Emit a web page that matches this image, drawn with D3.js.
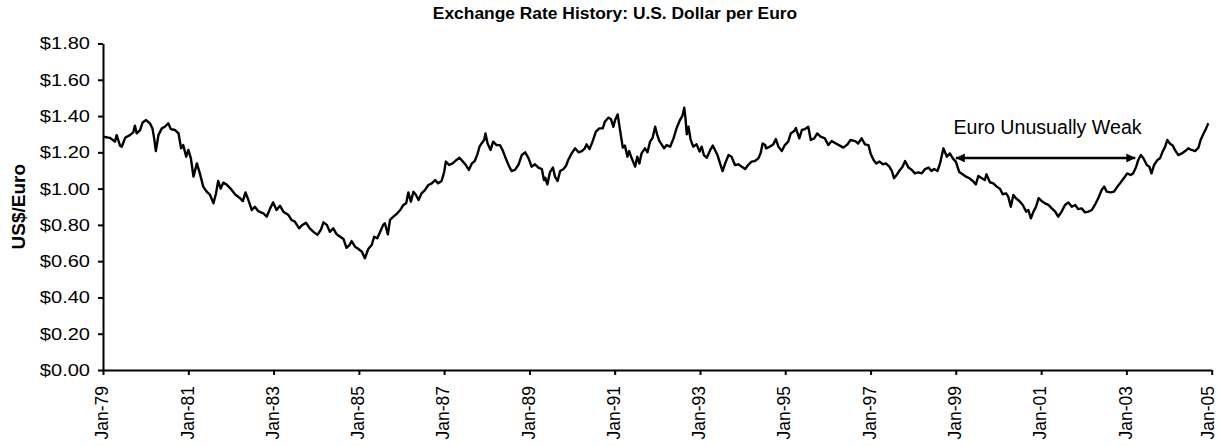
<!DOCTYPE html>
<html>
<head>
<meta charset="utf-8">
<script src="https://cdn.jsdelivr.net/npm/d3@7"></script>
<style>
  html, body { margin: 0; padding: 0; background: #fff; }
  svg { display: block; }
  text { font-family: "Liberation Sans", Arial, sans-serif; fill: #000; }
</style>
</head>
<body>
<svg id="chart" width="1219" height="446"></svg>
<script>
// ---- Data (decimal year, US$ per Euro) ----
const dates = [
  1979.01,1979.16,1979.28,1979.32,1979.40,1979.44,1979.52,1979.63,1979.71,1979.75,1979.79,1979.87,1979.93,
  1980.01,1980.10,1980.16,1980.20,1980.24,1980.30,1980.38,1980.45,1980.53,1980.59,1980.69,1980.77,1980.83,1980.88,1980.95,
  1981.00,1981.06,1981.12,1981.20,1981.27,1981.35,1981.43,1981.51,1981.59,1981.65,1981.70,1981.76,1981.82,1981.90,1981.99,
  1982.10,1982.20,1982.28,1982.34,1982.41,1982.49,1982.56,1982.64,1982.76,1982.84,1982.92,1982.99,
  1983.07,1983.15,1983.23,1983.35,1983.42,1983.50,1983.60,1983.66,1983.76,1983.85,1983.93,
  1984.03,1984.11,1984.17,1984.25,1984.32,1984.40,1984.48,1984.56,1984.64,1984.71,1984.78,1984.83,1984.91,1984.99,
  1985.07,1985.14,1985.22,1985.30,1985.36,1985.43,1985.50,1985.57,1985.61,1985.68,1985.73,1985.81,1985.90,1985.97,
  1986.04,1986.11,1986.16,1986.22,1986.28,1986.34,1986.40,1986.47,1986.55,1986.63,1986.71,1986.79,1986.86,1986.94,
  1987.00,1987.04,1987.12,1987.20,1987.29,1987.36,1987.44,1987.51,1987.58,1987.65,1987.72,1987.78,1987.83,1987.88,1987.94,1987.97,
  1988.02,1988.09,1988.15,1988.23,1988.31,1988.37,1988.43,1988.51,1988.58,1988.66,1988.74,1988.82,1988.90,1988.98,
  1989.05,1989.13,1989.21,1989.29,1989.34,1989.37,1989.42,1989.48,1989.55,1989.60,1989.66,1989.72,1989.80,1989.86,1989.91,1989.99,
  1990.07,1990.15,1990.23,1990.30,1990.34,1990.41,1990.48,1990.56,1990.64,1990.72,1990.77,1990.85,1990.91,1990.97,
  1991.01,1991.07,1991.12,1991.19,1991.24,1991.30,1991.34,1991.40,1991.48,1991.53,1991.58,1991.63,1991.71,1991.77,1991.83,1991.89,1991.95,
  1992.00,1992.05,1992.10,1992.16,1992.22,1992.30,1992.38,1992.45,1992.53,1992.59,1992.63,1992.66,1992.69,1992.73,1992.78,1992.84,1992.92,1992.99,
  1993.04,1993.09,1993.16,1993.24,1993.30,1993.35,1993.41,1993.47,1993.53,1993.59,1993.67,1993.74,1993.82,1993.90,1993.98,
  1994.06,1994.13,1994.21,1994.29,1994.37,1994.42,1994.47,1994.53,1994.55,1994.64,1994.72,1994.78,1994.84,1994.92,1994.99,
  1995.07,1995.13,1995.21,1995.25,1995.33,1995.39,1995.46,1995.54,1995.60,1995.68,1995.75,1995.83,1995.93,
  1996.01,1996.09,1996.19,1996.28,1996.36,1996.46,1996.53,1996.64,1996.71,1996.79,1996.87,1996.95,
  1997.00,1997.07,1997.13,1997.21,1997.29,1997.36,1997.44,1997.50,1997.55,1997.61,1997.69,1997.75,1997.81,1997.89,1997.97,
  1998.04,1998.12,1998.20,1998.28,1998.36,1998.43,1998.49,1998.57,1998.63,1998.71,1998.79,1998.86,1998.93,
  1999.00,1999.08,1999.16,1999.24,1999.32,1999.40,1999.47,1999.53,1999.61,1999.68,1999.72,1999.80,1999.88,1999.96,
  2000.04,2000.10,2000.18,2000.23,2000.29,2000.35,2000.41,2000.49,2000.57,2000.65,2000.70,2000.76,2000.82,2000.88,2000.94,
  2001.01,2001.09,2001.17,2001.25,2001.33,2001.40,2001.48,2001.56,2001.64,2001.72,2001.80,2001.87,2001.95,
  2002.03,2002.11,2002.19,2002.26,2002.34,2002.42,2002.48,2002.54,2002.63,2002.71,2002.79,2002.87,2002.94,
  2003.02,2003.10,2003.16,2003.23,2003.28,2003.34,2003.40,2003.48,2003.54,2003.59,2003.65,2003.73,2003.79,2003.85,2003.91,2003.96,
  2004.02,2004.09,2004.14,2004.22,2004.30,2004.38,2004.45,2004.53,2004.61,2004.69,2004.74,2004.81,2004.87,2004.92
];
const rates = [
  1.286,1.280,1.259,1.295,1.237,1.231,1.280,1.295,1.310,1.347,1.305,1.323,1.365,
  1.378,1.360,1.332,1.277,1.207,1.295,1.332,1.341,1.360,1.328,1.323,1.305,1.222,1.240,1.176,
  1.213,1.167,1.066,1.139,1.084,1.011,0.983,0.965,0.919,0.974,1.042,1.000,1.033,1.022,1.000,
  0.967,0.950,0.931,0.979,0.937,0.882,0.900,0.876,0.864,0.845,0.891,0.924,
  0.882,0.906,0.873,0.854,0.827,0.818,0.781,0.796,0.812,0.781,0.763,
  0.745,0.773,0.814,0.800,0.762,0.781,0.748,0.735,0.722,0.674,0.689,0.711,0.680,0.667,
  0.652,0.616,0.667,0.689,0.735,0.726,0.762,0.800,0.809,0.748,0.827,0.845,0.864,0.882,
  0.909,0.919,0.979,0.928,0.983,0.965,0.937,0.974,0.992,1.020,1.029,1.047,1.029,1.042,
  1.090,1.149,1.130,1.139,1.158,1.170,1.149,1.130,1.103,1.139,1.152,1.189,1.231,1.249,1.268,1.304,
  1.249,1.213,1.259,1.240,1.240,1.213,1.176,1.130,1.097,1.103,1.130,1.185,1.200,1.167,
  1.121,1.134,1.116,1.108,1.047,1.060,1.023,1.090,1.116,1.066,1.042,1.097,1.108,1.126,1.158,1.194,
  1.222,1.200,1.207,1.222,1.244,1.218,1.259,1.314,1.332,1.332,1.369,1.391,1.384,1.341,
  1.378,1.409,1.332,1.226,1.237,1.176,1.207,1.167,1.121,1.176,1.139,1.194,1.222,1.200,1.259,1.280,1.341,
  1.295,1.262,1.244,1.222,1.240,1.231,1.277,1.332,1.378,1.402,1.446,1.387,1.300,1.341,1.270,1.231,1.244,1.204,
  1.231,1.185,1.170,1.213,1.237,1.213,1.185,1.139,1.097,1.139,1.185,1.176,1.130,1.134,1.121,
  1.108,1.130,1.149,1.152,1.167,1.194,1.249,1.240,1.222,1.231,1.244,1.273,1.231,1.207,1.240,
  1.259,1.304,1.317,1.334,1.277,1.323,1.328,1.341,1.268,1.277,1.304,1.286,1.277,
  1.240,1.262,1.249,1.237,1.226,1.244,1.268,1.262,1.249,1.277,1.244,1.240,
  1.194,1.158,1.139,1.149,1.134,1.139,1.121,1.097,1.057,1.075,1.103,1.121,1.152,1.116,1.103,
  1.084,1.090,1.084,1.108,1.116,1.097,1.108,1.097,1.139,1.222,1.176,1.194,1.167,
  1.149,1.092,1.079,1.066,1.057,1.042,1.023,1.070,1.057,1.047,1.079,1.035,1.029,1.011,
  0.998,0.969,0.974,0.956,0.900,0.965,0.947,0.932,0.910,0.873,0.882,0.836,0.873,0.900,0.947,
  0.932,0.919,0.910,0.891,0.873,0.845,0.873,0.910,0.924,0.900,0.910,0.887,0.891,
  0.869,0.873,0.882,0.910,0.947,0.992,1.011,0.983,0.979,0.983,1.011,1.035,1.057,
  1.084,1.075,1.084,1.121,1.158,1.185,1.167,1.130,1.121,1.084,1.130,1.158,1.167,1.204,1.231,1.268,
  1.249,1.237,1.213,1.185,1.194,1.207,1.222,1.213,1.207,1.226,1.268,1.304,1.332,1.360
];

// Axis definitions
const startYear = 1979, endYear = 2005;
const tickYears = d3.range(1979, 2006, 2);          // Jan-79 ... Jan-05
const yTicks = [0, 0.2, 0.4, 0.6, 0.8, 1.0, 1.2, 1.4, 1.6, 1.8];
const titleText = "Exchange Rate History: U.S. Dollar per Euro";
const yAxisTitle = "US$/Euro";
const annotationText = "Euro Unusually Weak";
const annotationSpan = [1999.0, 2003.21];   // arrow extent (years)
const annotationLevel = 1.169;              // arrow height (US$/Euro)
const annotationTextLevel = 1.30;

// ---- helpers ----
function yearToDate(t) {
  const yr = Math.floor(t);
  const a = new Date(yr, 0, 1).getTime(), b = new Date(yr + 1, 0, 1).getTime();
  return new Date(a + (t - yr) * (b - a));
}
const series = dates.map((t, i) => ({ date: yearToDate(t), value: rates[i] }));

// ---- layout ----
const svg = d3.select("#chart");
const pLeft = 103, pRight = 1211.7, pTop = 43.5, pBottom = 370;

const x = d3.scaleTime()
  .domain([new Date(startYear, 0, 1), new Date(endYear, 0, 1)])
  .range([pLeft, pRight]);
const y = d3.scaleLinear().domain([0, 1.8]).range([pBottom, pTop]);

// title
svg.append("text")
  .attr("x", 615).attr("y", 19)
  .attr("text-anchor", "middle")
  .style("font-weight", "bold").style("font-size", "17.4px")
  .text(titleText);

// y axis title
svg.append("text")
  .attr("transform", `translate(25,${(pTop + pBottom) / 2}) rotate(-90)`)
  .attr("text-anchor", "middle")
  .style("font-weight", "bold").style("font-size", "19px")
  .text(yAxisTitle);

// y axis
const yAxis = svg.append("g")
  .attr("transform", `translate(${pLeft},0)`)
  .call(d3.axisLeft(y).tickValues(yTicks).tickFormat(d3.format("$.2f")).tickSize(5).tickSizeOuter(0).tickPadding(8));
yAxis.selectAll("text")
  .style("font-size", "17px")
  .style("transform-box", "fill-box")
  .style("transform-origin", "right center")
  .style("transform", "scaleX(1.18)");

// x axis
const xAxis = svg.append("g")
  .attr("transform", `translate(0,${pBottom})`)
  .call(d3.axisBottom(x).tickValues(tickYears.map(yy => new Date(yy, 0, 1)))
        .tickFormat(d3.timeFormat("%b-%y")).tickSize(5).tickSizeOuter(0));
const nX = tickYears.length;
xAxis.selectAll("text")
  .attr("transform", "rotate(-90)")
  .attr("x", -16).attr("y", 0)
  .attr("dy", (d, i) => i === nX - 1 ? "0.08em" : "0.27em")   // keep last label inside the frame
  .attr("text-anchor", "end")
  .style("font-size", "17.5px");

svg.selectAll(".domain").attr("stroke", "#000").attr("stroke-width", 2);
svg.selectAll(".tick line").attr("stroke", "#000").attr("stroke-width", 2);

// line
const line = d3.line().x(d => x(d.date)).y(d => y(d.value));
svg.append("path")
  .datum(series)
  .attr("fill", "none")
  .attr("stroke", "#000")
  .attr("stroke-width", 2.4)
  .attr("stroke-linejoin", "round")
  .attr("d", line);

// annotation arrow (double headed)
const defs = svg.append("defs");
defs.append("marker")
  .attr("id", "ah").attr("viewBox", "0 0 10 10")
  .attr("refX", 10).attr("refY", 5)
  .attr("markerWidth", 20).attr("markerHeight", 9)
  .attr("markerUnits", "userSpaceOnUse")
  .attr("orient", "auto-start-reverse")
  .append("path").attr("d", "M0,0 L10,5 L0,10 Z").attr("fill", "#000");

const ax0 = x(yearToDate(annotationSpan[0])), ax1 = x(yearToDate(annotationSpan[1]));
const ay = y(annotationLevel);
svg.append("line")
  .attr("x1", ax0).attr("x2", ax1).attr("y1", ay).attr("y2", ay)
  .attr("stroke", "#000").attr("stroke-width", 2.5)
  .attr("marker-start", "url(#ah)").attr("marker-end", "url(#ah)");

svg.append("text")
  .attr("x", (ax0 + ax1) / 2 + 2).attr("y", y(annotationTextLevel))
  .attr("text-anchor", "middle")
  .style("font-size", "19.6px")
  .text(annotationText);
</script>
</body>
</html>
